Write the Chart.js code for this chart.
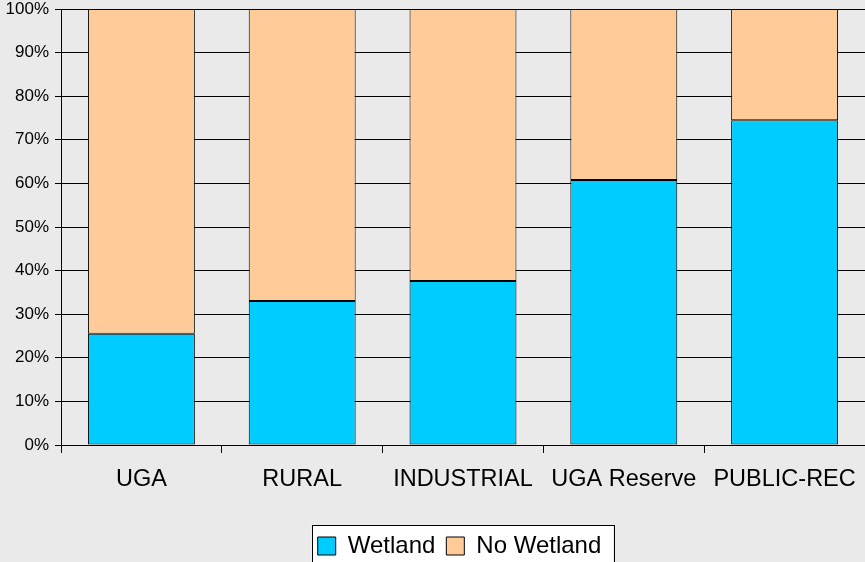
<!DOCTYPE html>
<html>
<head>
<meta charset="utf-8">
<script src="https://cdn.jsdelivr.net/npm/chart.js@4"></script>
<style>
  html, body { margin: 0; padding: 0; background: #eaeaea; }
  #wrap { width: 865px; height: 562px; }
</style>
</head>
<body>
<div id="wrap"><canvas id="chart"></canvas></div>
<script>
// Data (percent of parcels)
const categories = ['UGA', 'RURAL', 'INDUSTRIAL', 'UGA Reserve', 'PUBLIC-REC'];
const wetland = [25.5, 33.0, 37.6, 60.8, 74.5];
const noWetland = wetland.map(v => 100 - v);

const LEGEND_SHIFT = 27;

// Nudge the legend right, like the original, and draw the white framed box behind it
const legendFrame = {
    id: 'legendFrame',
    afterLayout(chart) {
        const lg = chart.legend;
        if (!lg) return;
        lg.left += LEGEND_SHIFT;
        lg.right += LEGEND_SHIFT;
    },
    beforeDraw(chart) {
        const ctx = chart.ctx;
        ctx.save();
        ctx.fillStyle = '#eaeaea';
        ctx.fillRect(0, 0, chart.width, chart.height);
        const boxes = chart.legend && chart.legend.legendHitBoxes;
        if (boxes && boxes.length) {
            const first = boxes[0];
            const last = boxes[boxes.length - 1];
            const x0 = first.left - 6;
            const x1 = last.left + last.width + 12;
            const y0 = first.top - 9;
            const y1 = first.top + first.height + 14;
            ctx.fillStyle = '#ffffff';
            ctx.fillRect(x0, y0, x1 - x0, y1 - y0);
            ctx.strokeStyle = '#000';
            ctx.lineWidth = 1;
            ctx.strokeRect(Math.round(x0) + 0.5, Math.round(y0) + 0.5, Math.round(x1 - x0), Math.round(y1 - y0));
        }
        ctx.restore();
    }
};

const ctx = document.getElementById('chart').getContext('2d');
new Chart(ctx, {
    type: 'bar',
    data: {
        labels: categories,
        datasets: [
            {
                label: 'Wetland',
                data: wetland,
                backgroundColor: '#00ccff',
                borderColor: '#000',
                borderWidth: 1,
                borderSkipped: false
            },
            {
                label: 'No Wetland',
                data: noWetland,
                backgroundColor: '#ffcc99',
                borderColor: '#000',
                borderWidth: 1,
                borderSkipped: false
            }
        ]
    },
    options: {
        responsive: true,
        maintainAspectRatio: false,
        animation: false,
        layout: { padding: { top: 9, right: 0, left: 0, bottom: -6 } },
        datasets: { bar: { barPercentage: 0.665, categoryPercentage: 1 } },
        plugins: {
            legend: {
                position: 'bottom',
                labels: {
                    font: { family: 'Liberation Sans, Arial, sans-serif', size: 24 },
                    color: '#000',
                    boxWidth: 18,
                    boxHeight: 18,
                    padding: 11
                }
            },
            tooltip: { enabled: false }
        },
        scales: {
            x: {
                stacked: true,
                afterFit: (scale) => {
                    scale.height = 78;
                    scale.paddingLeft = 0;
                    scale.paddingRight = 0;
                },
                grid: {
                    offset: true,
                    drawOnChartArea: false,
                    drawTicks: true,
                    tickLength: 8,
                    color: '#000'
                },
                border: { color: '#000', width: 1 },
                ticks: {
                    font: { family: 'Liberation Sans, Arial, sans-serif', size: 23.5 },
                    color: '#000',
                    padding: 12
                }
            },
            y: {
                stacked: true,
                min: 0,
                max: 100,
                afterFit: (scale) => {
                    scale.width = 61;
                    scale.paddingTop = 0;
                    scale.paddingBottom = 0;
                },
                grid: {
                    color: '#000',
                    lineWidth: 1,
                    tickLength: 6
                },
                border: { color: '#000', width: 1 },
                ticks: {
                    stepSize: 10,
                    font: { family: 'Liberation Sans, Arial, sans-serif', size: 17 },
                    color: '#000',
                    padding: 6,
                    callback: (v) => v + '%'
                }
            }
        }
    },
    plugins: [legendFrame]
});
</script>
</body>
</html>
